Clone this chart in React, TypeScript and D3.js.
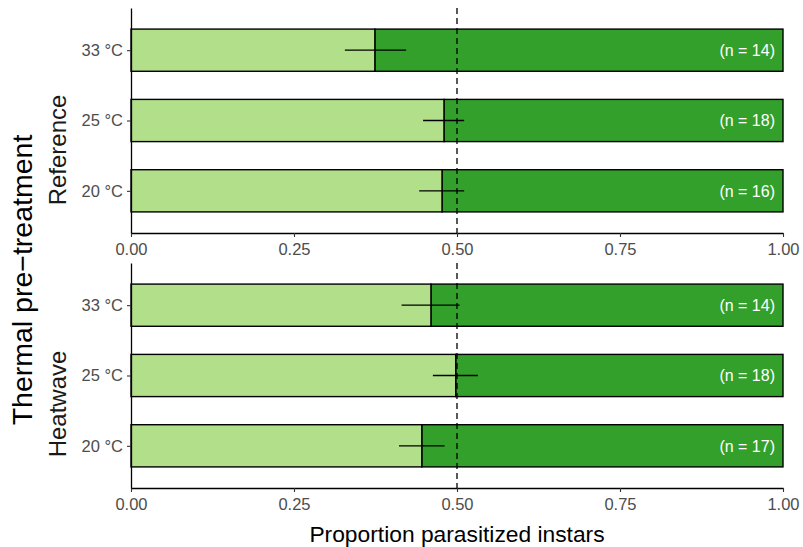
import React, { useRef, useEffect } from "react";
import * as d3 from "d3";

// data
const panels = ["Reference", "Heatwave"];
const temps = ["33 °C", "25 °C", "20 °C"];
const propRef = [0.374, 0.48, 0.477];
const loRef = [0.328, 0.448, 0.442];
const hiRef = [0.422, 0.511, 0.511];
const nRef = [14, 18, 16];
const propHeat = [0.46, 0.498, 0.446];
const loHeat = [0.415, 0.463, 0.411];
const hiHeat = [0.504, 0.532, 0.481];
const nHeat = [14, 18, 17];
const xTicks = [0, 0.25, 0.5, 0.75, 1];

const lightGreen = "#b2df8a";
const darkGreen = "#33a02c";
const font = "'Liberation Sans', Arial, sans-serif";

const App = () => {
  const svgRef = useRef(null);

  useEffect(() => {
    const svg = d3.select(svgRef.current);
    svg.selectAll("*").remove();

    const x = d3.scaleLinear().domain([0, 1]).range([131, 783]);
    const panelTops = [8, 263];
    const panelH = 225;
    const stripY = [150, 404];

    const groups = [
      { name: panels[0], prop: propRef, lo: loRef, hi: hiRef, n: nRef },
      { name: panels[1], prop: propHeat, lo: loHeat, hi: hiHeat, n: nHeat },
    ];

    groups.forEach((grp, gi) => {
      const top = panelTops[gi];
      const bottom = top + panelH;
      const y = d3.scalePoint().domain(temps).range([top, bottom]).padding(0.6);
      const barH = y.step() * 0.6;
      const rows = temps.map((t, i) => ({
        t,
        p: grp.prop[i],
        lo: grp.lo[i],
        hi: grp.hi[i],
        n: grp.n[i],
      }));

      const g = svg.append("g");

      // dark part (not parasitized)
      g.selectAll("rect.dark")
        .data(rows)
        .enter()
        .append("rect")
        .attr("x", (d) => x(d.p))
        .attr("y", (d) => y(d.t) - barH / 2)
        .attr("width", (d) => x(1) - x(d.p))
        .attr("height", barH)
        .attr("fill", darkGreen)
        .attr("stroke", "#000")
        .attr("stroke-width", 1.4);

      g.selectAll("rect.light")
        .data(rows)
        .enter()
        .append("rect")
        .attr("x", x(0))
        .attr("y", (d) => y(d.t) - barH / 2)
        .attr("width", (d) => x(d.p) - x(0))
        .attr("height", barH)
        .attr("fill", lightGreen)
        .attr("stroke", "#000")
        .attr("stroke-width", 1.4);

      // error bars
      g.selectAll("line.err")
        .data(rows)
        .enter()
        .append("line")
        .attr("x1", (d) => x(d.lo))
        .attr("x2", (d) => x(d.hi))
        .attr("y1", (d) => y(d.t))
        .attr("y2", (d) => y(d.t))
        .attr("stroke", "#000")
        .attr("stroke-width", 1.3);

      // n labels
      g.selectAll("text.n")
        .data(rows)
        .enter()
        .append("text")
        .attr("x", x(1) - 8)
        .attr("y", (d) => y(d.t))
        .attr("dy", "0.36em")
        .attr("text-anchor", "end")
        .attr("fill", "#fff")
        .style("font-family", font)
        .style("font-size", "16px")
        .text((d) => `(n = ${d.n})`);

      // reference line
      g.append("line")
        .attr("x1", x(0.5))
        .attr("x2", x(0.5))
        .attr("y1", top)
        .attr("y2", bottom)
        .attr("stroke", "#000")
        .attr("stroke-width", 1.3)
        .attr("stroke-dasharray", "6,4");

      // axes
      const xAxis = g
        .append("g")
        .attr("transform", `translate(0,${bottom})`)
        .call(
          d3
            .axisBottom(x)
            .tickValues(xTicks)
            .tickFormat(d3.format(".2f"))
            .tickSize(4)
            .tickSizeOuter(0)
        );
      xAxis.select(".domain").attr("stroke", "#000").attr("stroke-width", 1.3);
      xAxis.selectAll(".tick line").attr("stroke", "#333").attr("stroke-width", 1.1);
      xAxis
        .selectAll(".tick text")
        .attr("fill", "#4d4d4d")
        .attr("y", 22)
        .attr("dy", 0)
        .style("font-family", font)
        .style("font-size", "16.5px");

      const yAxis = g
        .append("g")
        .attr("transform", `translate(${x(0)},0)`)
        .call(d3.axisLeft(y).tickSize(4).tickSizeOuter(0));
      yAxis.select(".domain").attr("stroke", "#000").attr("stroke-width", 1.3);
      yAxis.selectAll(".tick line").attr("stroke", "#333").attr("stroke-width", 1.1);
      yAxis
        .selectAll(".tick text")
        .attr("fill", "#4d4d4d")
        .attr("x", -8)
        .style("font-family", font)
        .style("font-size", "16.5px");

      // strip label
      g.append("text")
        .attr("transform", `translate(66,${stripY[gi]}) rotate(-90)`)
        .attr("text-anchor", "middle")
        .attr("fill", "#1a1a1a")
        .style("font-family", font)
        .style("font-size", "24px")
        .text(grp.name);
    });

    svg
      .append("text")
      .attr("x", x(0.5))
      .attr("y", 542)
      .attr("text-anchor", "middle")
      .attr("fill", "#000")
      .style("font-family", font)
      .style("font-size", "22.8px")
      .text("Proportion parasitized instars");

    svg
      .append("text")
      .attr("transform", `translate(32,280) rotate(-90)`)
      .attr("text-anchor", "middle")
      .attr("fill", "#000")
      .style("font-family", font)
      .style("font-size", "28.5px")
      .text("Thermal pre\u2212treatment");
  }, []);

  return (
    <svg
      ref={svgRef}
      width={803}
      height={547}
      style={{ position: "absolute", left: 0, top: 0, background: "#fff" }}
    ></svg>
  );
};

export default App;
